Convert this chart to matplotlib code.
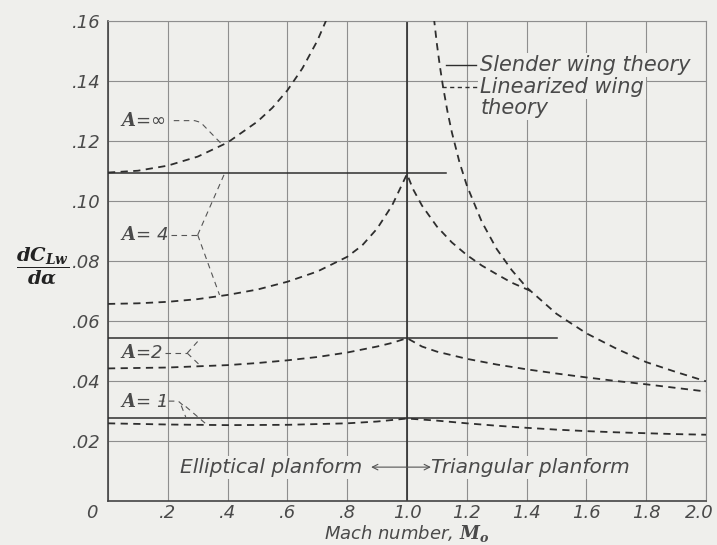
import matplotlib
matplotlib.use('Agg')
import matplotlib.pyplot as plt
from matplotlib.transforms import ScaledTranslation

plt.rcParams['mathtext.fontset'] = 'custom'
plt.rcParams['mathtext.bf'] = 'DejaVu Serif:italic:bold'
plt.rcParams['mathtext.rm'] = 'DejaVu Serif'
plt.rcParams['mathtext.it'] = 'DejaVu Serif:italic'

# ---- data ----
# A = infinity, linearized theory (subsonic / supersonic branches)
m_inf_sub = [0, 0.1, 0.2, 0.3, 0.4, 0.5, 0.55, 0.6, 0.65, 0.7, 0.73]
cl_inf_sub = [0.1095, 0.1101, 0.1118, 0.1148, 0.1195, 0.1265, 0.1311, 0.1369, 0.1442, 0.1534, 0.1603]
m_inf_sup = [1.09, 1.1, 1.11, 1.12, 1.135, 1.15, 1.175, 1.2, 1.25, 1.3, 1.35, 1.4, 1.5, 1.6, 1.7, 1.8, 1.9, 2.0]
cl_inf_sup = [0.1610, 0.1523, 0.1449, 0.1384, 0.1300, 0.1229, 0.1131, 0.1052, 0.0931, 0.0840, 0.0770,
              0.0712, 0.0624, 0.0559, 0.0508, 0.0463, 0.0430, 0.0399]

# A = 4
m_a4 = [0, 0.1, 0.2, 0.3, 0.4, 0.5, 0.6, 0.7, 0.8, 0.85, 0.9, 0.95, 1.0,
        1.02, 1.05, 1.1, 1.15, 1.2, 1.25, 1.3, 1.35, 1.414]
cl_a4 = [0.0657, 0.0659, 0.0664, 0.0673, 0.0687, 0.0705, 0.0731, 0.0765, 0.0814, 0.0852, 0.0908, 0.0985, 0.1090,
         0.1040, 0.0985, 0.0915, 0.0862, 0.0820, 0.0785, 0.0756, 0.0728, 0.0700]

# A = 2
m_a2 = [0, 0.2, 0.4, 0.5, 0.6, 0.7, 0.8, 0.9, 0.95, 1.0,
        1.05, 1.1, 1.2, 1.3, 1.4, 1.5, 1.6, 1.7, 1.8, 1.9, 2.0]
cl_a2 = [0.0442, 0.0445, 0.0453, 0.0460, 0.0469, 0.0480, 0.0495, 0.0515, 0.0527, 0.0543,
         0.0515, 0.0498, 0.0474, 0.0455, 0.0439, 0.0425, 0.0412, 0.0400, 0.0389, 0.0377, 0.0365]

# A = 1
m_a1 = [0, 0.2, 0.4, 0.6, 0.8, 0.9, 1.0,
        1.1, 1.2, 1.3, 1.4, 1.5, 1.6, 1.7, 1.8, 1.9, 2.0]
cl_a1 = [0.0259, 0.0255, 0.0253, 0.0254, 0.0259, 0.0265, 0.0275,
         0.0268, 0.0259, 0.0251, 0.0244, 0.0238, 0.0233, 0.0229, 0.0226, 0.0223, 0.0221]

# slender wing theory (constant), and where each line stops
slender_A = [1, 2, 4]
slender_cl = [0.0277, 0.0543, 0.1092]
slender_end = [2.0, 1.5, 1.13]

m_sonic = 1.0

x_ticks = [0, 0.2, 0.4, 0.6, 0.8, 1.0, 1.2, 1.4, 1.6, 1.8, 2.0]
x_labels = ['0', '.2', '.4', '.6', '.8', '1.0', '1.2', '1.4', '1.6', '1.8', '2.0']
y_ticks = [0.02, 0.04, 0.06, 0.08, 0.10, 0.12, 0.14, 0.16]
y_labels = ['.02', '.04', '.06', '.08', '.10', '.12', '.14', '.16']

bg = '#efefec'
ink = '#2e2e2e'
txt = '#4a4a4a'
dash = (0, (4, 3))
lead = (0, (5, 4))
box = dict(facecolor=bg, edgecolor='none', pad=1.5)
tfont = dict(family='DejaVu Sans', style='italic', color=txt)

fig = plt.figure(figsize=(7.17, 5.45), dpi=100, facecolor=bg)
ax = fig.add_axes([0.1506, 0.0807, 0.8341, 0.8807], facecolor=bg)

ax.set_xlim(0, 2.0)
ax.set_ylim(0, 0.16)
ax.set_xticks(x_ticks)
ax.set_xticklabels(x_labels, fontsize=13, **tfont)
ax.set_yticks(y_ticks)
ax.set_yticklabels(y_labels, fontsize=13, **tfont)
ax.tick_params(length=0)
ax.tick_params(axis='x', pad=2.5)
ax.tick_params(axis='y', pad=5)
xl = ax.get_xticklabels()
xl[0].set_transform(xl[0].get_transform() + ScaledTranslation(-0.16, 0, fig.dpi_scale_trans))
xl[-1].set_transform(xl[-1].get_transform() + ScaledTranslation(-0.07, 0, fig.dpi_scale_trans))

ax.grid(True, color='#8e8e8e', lw=0.8)
ax.set_axisbelow(True)
for side, sp in ax.spines.items():
    sp.set_color('#444444' if side in ('left', 'bottom') else '#8e8e8e')
    sp.set_linewidth(1.2 if side in ('left', 'bottom') else 0.8)

ax.axvline(m_sonic, color=ink, lw=1.2, zorder=2)

# slender wing theory
for a, c, e in zip(slender_A, slender_cl, slender_end):
    ax.plot([0, e], [c, c], color=ink, lw=1.1, zorder=3)

# linearized wing theory
lkw = dict(color=ink, lw=1.3, linestyle=dash, zorder=3)
ax.plot(m_inf_sub, cl_inf_sub, **lkw)
ax.plot(m_inf_sup, cl_inf_sup, **lkw)
ax.plot(m_a4, cl_a4, **lkw)
ax.plot(m_a2, cl_a2, **lkw)
ax.plot(m_a1, cl_a1, **lkw)

# aspect ratio labels with leaders
lk = dict(color='#555555', lw=0.8, linestyle=lead, zorder=3)
ax.text(0.04, 0.1268, r'$\mathbf{A}$=∞', fontsize=13, va='center', zorder=4, **tfont)
ax.plot([0.22, 0.29, 0.31, 0.385], [0.1268, 0.1268, 0.1262, 0.1185], **lk)

ax.text(0.04, 0.0887, r'$\mathbf{A}$= 4', fontsize=13, va='center', zorder=4, **tfont)
ax.plot([0.21, 0.30], [0.0887, 0.0887], **lk)
ax.plot([0.30, 0.39], [0.0887, 0.1092], **lk)
ax.plot([0.30, 0.373], [0.0887, 0.0687], **lk)

ax.text(0.04, 0.0493, r'$\mathbf{A}$=2', fontsize=13, va='center', zorder=4, **tfont)
ax.plot([0.19, 0.265], [0.0493, 0.0493], **lk)
ax.plot([0.265, 0.31], [0.0493, 0.0543], **lk)
ax.plot([0.265, 0.31], [0.0493, 0.0450], **lk)

ax.text(0.04, 0.0330, r'$\mathbf{A}$= 1', fontsize=13, va='center', zorder=4, **tfont)
ax.plot([0.17, 0.235, 0.25], [0.0333, 0.0333, 0.0320], **lk)
ax.plot([0.245, 0.26], [0.0318, 0.0280], **lk)
ax.plot([0.26, 0.33], [0.0315, 0.0255], **lk)

# legend
ax.plot([1.13, 1.23], [0.1453, 0.1453], color=ink, lw=1.0, zorder=3)
ax.text(1.245, 0.1453, 'Slender wing theory', fontsize=15, va='center', bbox=box, zorder=4, **tfont)
ax.plot([1.117, 1.237], [0.1380, 0.1380], color=ink, lw=1.0, linestyle=(0, (3, 2.5)), zorder=3)
ax.text(1.245, 0.1380, 'Linearized wing', fontsize=15, va='center', bbox=box, zorder=4, **tfont)
ax.text(1.245, 0.1310, 'theory', fontsize=15, va='center', bbox=box, zorder=4, **tfont)

# planform notes
ax.text(0.24, 0.0113, 'Elliptical planform', fontsize=14.5, va='center', bbox=box, zorder=4, **tfont)
ax.text(1.08, 0.0113, 'Triangular planform', fontsize=14.5, va='center', bbox=box, zorder=4, **tfont)
ax.annotate('', xy=(0.88, 0.0113), xytext=(1.08, 0.0113),
            arrowprops=dict(arrowstyle='<->', color='#555555', lw=0.8, shrinkA=0, shrinkB=0), zorder=4)

ax.set_xlabel(r'Mach number, $\mathbf{M_o}$', fontsize=13, va='baseline', **tfont)
ax.xaxis.set_label_coords(0.5, -0.079)
ax.set_ylabel(r'$\dfrac{\mathbf{dC_{Lw}}}{\mathbf{d\alpha}}$', fontsize=14, rotation=0,
              color='#222222', va='center', ha='center')
ax.yaxis.set_label_coords(-0.11, 0.49)

fig.savefig('out.png', dpi=100, facecolor=bg)
